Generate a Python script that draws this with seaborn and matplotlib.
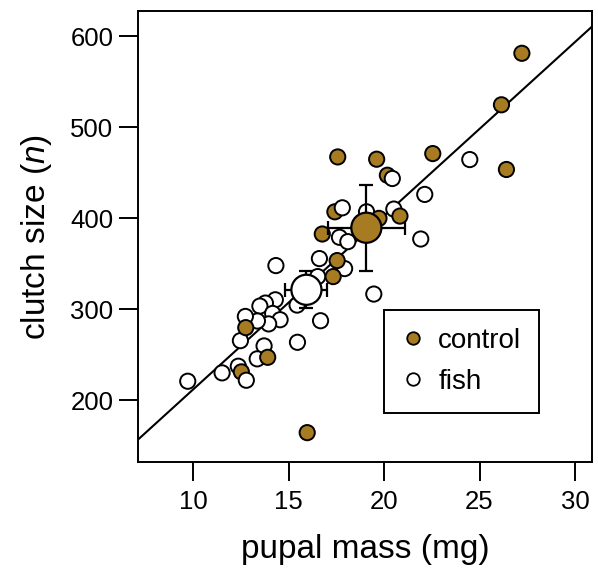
import numpy as np
import matplotlib.pyplot as plt
import pandas as pd
import seaborn as sns
from matplotlib.lines import Line2D

# individual females, control treatment
control_mass = [27.22, 26.15, 26.41, 22.55, 19.61, 17.57, 20.17, 20.83, 19.73,
                17.42, 16.76, 17.54, 17.33, 15.97, 13.90, 12.75, 12.52]
control_clutch = [581.5, 524.9, 453.8, 471.3, 465.1, 467.6, 447.5, 402.6, 400.1,
                  407.3, 382.9, 353.7, 336.1, 164.6, 247.4, 280.0, 231.4]

# individual females, fish treatment (last three drawn over the control dots)
fish_mass = [24.49, 22.13, 20.51, 19.08, 17.66, 18.10, 21.92, 16.61, 17.93,
             16.52, 19.46, 14.33, 15.44, 14.30, 13.78, 13.49, 14.16, 14.55,
             13.95, 13.36, 12.73, 16.67, 12.47, 13.71, 15.46, 13.35, 12.36,
             11.51, 9.71, 20.43, 17.81, 12.78]
fish_clutch = [464.7, 426.4, 410.3, 407.3, 379.3, 374.5, 377.4, 355.9, 344.9,
               336.1, 316.9, 348.2, 304.8, 310.6, 307.0, 303.7, 295.6, 288.7,
               284.1, 287.3, 292.3, 287.6, 265.7, 259.9, 263.9, 245.7, 237.6,
               230.3, 221.1, 443.9, 411.7, 222.2]

# group means with error bars
groups = ["control", "fish"]
mean_mass = [19.07, 15.93]
mean_clutch = [389.8, 321.6]
err_mass = [2.02, 1.10]
err_clutch = [47.5, 20.5]

# fitted line
line_intercept = 21.4
line_slope = 19.08

brown = "#a67b22"
colors = {"control": brown, "fish": "white"}

sns.set_style("ticks")
plt.rcParams["font.family"] = ["Liberation Sans", "DejaVu Sans"]
plt.rcParams["mathtext.fontset"] = "custom"
plt.rcParams["mathtext.rm"] = "Liberation Sans"
plt.rcParams["mathtext.it"] = "Liberation Sans:italic"
plt.rcParams["text.color"] = "black"
plt.rcParams["axes.labelcolor"] = "black"

fish_df = pd.DataFrame({"mass": fish_mass, "clutch": fish_clutch, "group": "fish"})
ctrl_df = pd.DataFrame({"mass": control_mass, "clutch": control_clutch, "group": "control"})
df = pd.concat([fish_df.iloc[:-3], ctrl_df, fish_df.iloc[-3:]], ignore_index=True)
means = pd.DataFrame({"mass": mean_mass, "clutch": mean_clutch, "group": groups})

fig = plt.figure(figsize=(5.98, 5.69), dpi=100)
ax = fig.add_axes([0.2313, 0.1875, 0.7582, 0.7932])

ax.axline((0, line_intercept), slope=line_slope, color="black", lw=1.5, zorder=2)

sns.scatterplot(data=df, x="mass", y="clutch", hue="group", palette=colors,
                s=120, edgecolor="black", linewidth=1.4, legend=False, ax=ax, zorder=3)

ax.errorbar(mean_mass, mean_clutch, xerr=err_mass, yerr=err_clutch, fmt="none",
            ecolor="black", elinewidth=1.6, capsize=4.7, capthick=1.6, zorder=4)

sns.scatterplot(data=means, x="mass", y="clutch", hue="group", palette=colors,
                s=470, edgecolor="black", linewidth=1.6, legend=False, ax=ax, zorder=5)

ax.set_xlim(7.12, 30.88)
ax.set_ylim(132, 628)
ax.set_xticks([10, 15, 20, 25, 30])
ax.set_yticks([200, 300, 400, 500, 600])
ax.tick_params(direction="out", length=14, width=1.4, labelsize=18.5, pad=4,
               color="black", labelcolor="black")
ax.tick_params(axis="x", pad=6)
for sp in ax.spines.values():
    sp.set_visible(True)
    sp.set_linewidth(1.4)
    sp.set_color("black")

ax.set_xlabel("pupal mass (mg)", fontsize=24, labelpad=14)
ax.set_ylabel("clutch size ($\\mathit{n}$)", fontsize=24, labelpad=12)

handles = [Line2D([], [], ls="none", marker="o", markersize=9, markerfacecolor=colors[g],
                  markeredgecolor="black", markeredgewidth=1.3) for g in groups]
leg = ax.legend(handles, groups, loc="lower left", bbox_to_anchor=(0.542, 0.109),
                fontsize=20, frameon=True, fancybox=False, borderpad=0.65,
                labelspacing=0.55, handlelength=0.8, handletextpad=0.5, borderaxespad=0)
leg.get_frame().set_edgecolor("black")
leg.get_frame().set_linewidth(1.4)
leg.get_frame().set_alpha(1)

fig.savefig("out.png", dpi=100)
